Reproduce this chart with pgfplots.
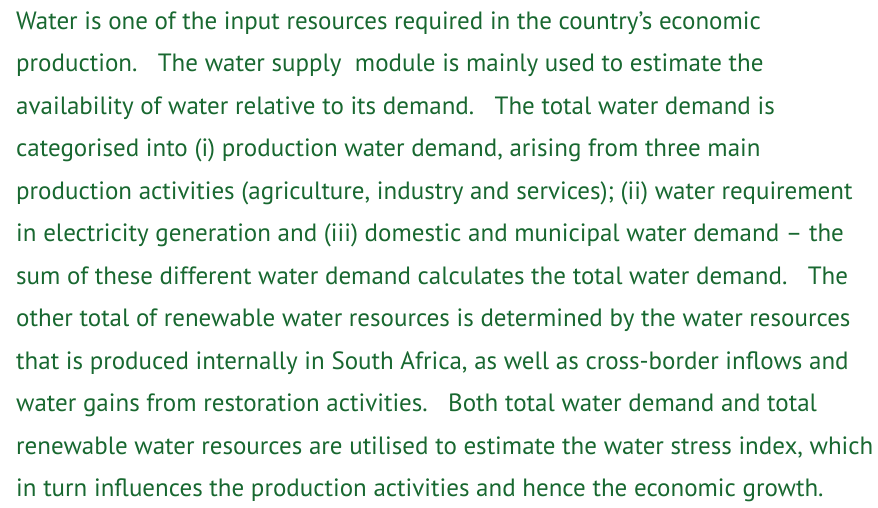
\documentclass[border=0pt]{standalone}
\usepackage{fontspec}
\setmainfont{PT Sans}
\usepackage{pgfplots}
\pgfplotsset{compat=1.18}
\definecolor{txtgreen}{RGB}{24,104,48}
\newcommand{\gapsp}{\hspace{0.55em}}
\begin{document}
\begin{tikzpicture}
\path[use as bounding box] (0,0) rectangle (878bp,508bp);
\begin{axis}[at={(0,0)},anchor=south west,scale only axis,width=878bp,height=508bp,
  xmin=0,xmax=878,ymin=0,ymax=508,hide axis,clip=false]
\addplot[draw=none] coordinates {(0,0) (878,508)};
\tikzset{ln/.style={anchor=base west,inner sep=0pt,text=txtgreen,font=\fontsize{25bp}{30bp}\selectfont}}
\node[ln] at (axis cs:16,478.7) {Water is one of the input resources required in the country’s economic};
\node[ln] at (axis cs:16,436.2) {production.\gapsp\ The water supply\ \ module is mainly used to estimate the};
\node[ln] at (axis cs:16,393.7) {availability of water relative to its demand.\gapsp\ The total water demand is};
\node[ln] at (axis cs:16,351.2) {categorised into (i) production water demand, arising from three main};
\node[ln] at (axis cs:16,308.7) {production activities (agriculture, industry and services); (ii) water requirement};
\node[ln] at (axis cs:16,266.2) {in electricity generation and (iii) domestic and municipal water demand – the};
\node[ln] at (axis cs:16,223.7) {sum of these different water demand calculates the total water demand.\gapsp\ The};
\node[ln] at (axis cs:16,181.2) {other total of renewable water resources is determined by the water resources};
\node[ln] at (axis cs:16,138.7) {that is produced internally in South Africa, as well as cross-border inflows and};
\node[ln] at (axis cs:16,96.2) {water gains from restoration activities.\gapsp\ Both total water demand and total};
\node[ln] at (axis cs:16,53.7) {renewable water resources are utilised to estimate the water stress index, which};
\node[ln] at (axis cs:16,11.2) {in turn influences the production activities and hence the economic growth.};
\end{axis}
\end{tikzpicture}
\end{document}
